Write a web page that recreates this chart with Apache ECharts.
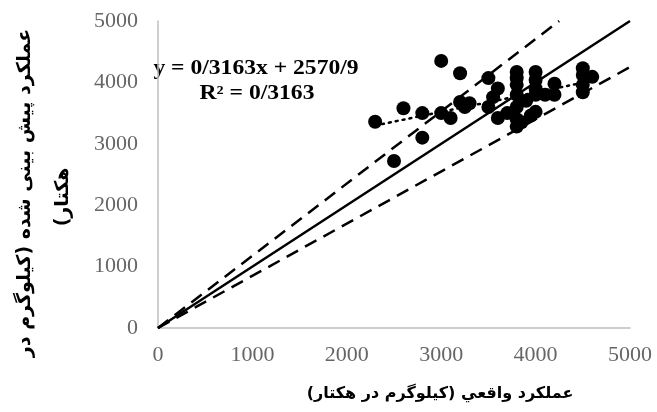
<!DOCTYPE html>
<html><head><meta charset="utf-8">
<script src="https://cdn.jsdelivr.net/npm/echarts@6/dist/echarts.min.js"></script>
<style>html,body{margin:0;padding:0;background:#fff}#c{width:657px;height:412px}</style>
</head><body><div id="c"></div>
<script>
// Observed (actual) yield vs predicted yield, kg/ha
const actualYield = [2300,2500,2600,2800,2800,3000,3000,3100,3200,3200,3300,3250,3500,3500,3600,3600,3550,3800,3800,3800,3800,3800,3800,3800,3850,3950,4000,4000,4000,4000,4000,4100,4200,4200,4500,4500,4500,4500,4600,3900,3700];
const predictedYield = [3360,2720,3580,3500,3100,4350,3500,3420,4150,3680,3660,3600,4070,3600,3900,3420,3760,4170,4070,3960,3800,3600,3400,3280,3350,3460,3520,4170,4040,3900,3800,3800,3800,3980,4230,4120,3960,3840,4090,3700,3500];
const oneToOneLine = [[0,0],[5000,5000]];
const upperLine = [[0,0],[4250,5000]];
const lowerLine = [[0,0],[5000,4250]];
const trendLine = [[2300,3298],[4600,4026]];
const equationText = 'y = 0/3163x + 2570/9';
const r2Text = 'R² = 0/3163';
const xTitle = 'عملکرد واقعي (کیلوگرم در هکتار)';
const yTitle1 = 'عملکرد پیش بینی شده (کیلوگرم در';
const yTitle2 = 'هکتار)';

const RLM = '\u200F';
const points = actualYield.map((x,i)=>[x, predictedYield[i]]);
const chart = echarts.init(document.getElementById('c'), null, {renderer:'canvas'});
const axisLabel = {color:'#666', fontFamily:'Liberation Serif', fontSize:22, formatter:v=>String(v)};
const lineBase = {type:'line', showSymbol:false, symbol:'none', silent:true, z:2};
chart.setOption({
  backgroundColor:'#fff',
  animation:false,
  grid:{left:158, right:27, top:21, bottom:84, containLabel:false},
  xAxis:{type:'value', min:0, max:5000, interval:1000,
    axisLine:{show:true, onZero:false, lineStyle:{color:'#bfbfbf', width:1.5}},
    axisTick:{show:false}, splitLine:{show:false},
    axisLabel:Object.assign({margin:16}, axisLabel)},
  yAxis:{type:'value', min:0, max:5000, interval:1000,
    axisLine:{show:true, onZero:false, lineStyle:{color:'#bfbfbf', width:1.5}},
    axisTick:{show:false}, splitLine:{show:false},
    axisLabel:Object.assign({margin:20}, axisLabel)},
  series:[
    Object.assign({}, lineBase, {data:oneToOneLine, lineStyle:{color:'#000', width:2.5}}),
    Object.assign({}, lineBase, {data:upperLine, lineStyle:{color:'#000', width:2.5, type:[13,8]}}),
    Object.assign({}, lineBase, {data:lowerLine, lineStyle:{color:'#000', width:2.5, type:[13,8]}}),
    Object.assign({}, lineBase, {data:trendLine, lineStyle:{color:'#000', width:2.5, type:[2,5], cap:'round'}}),
    {type:'scatter', data:points, symbol:'circle', symbolSize:14, itemStyle:{color:'#000', opacity:1}, z:3, silent:true}
  ],
  graphic:[
    {type:'text', x:256, y:69, scaleX:1.18, style:{text:equationText, font:'bold 20px "Liberation Serif"', fill:'#000', textAlign:'center', textVerticalAlign:'middle'}},
    {type:'text', x:257, y:94, scaleX:1.18, style:{text:r2Text, font:'bold 20px "Liberation Serif"', fill:'#000', textAlign:'center', textVerticalAlign:'middle'}},
    {type:'text', x:440, y:394, style:{text:RLM+xTitle+RLM, font:'bold 16px "DejaVu Sans"', fill:'#000', textAlign:'center', textVerticalAlign:'middle'}},
    {type:'text', x:25, y:193, rotation:Math.PI/2, style:{text:RLM+yTitle1+RLM, font:'bold 19px "DejaVu Sans"', fill:'#000', textAlign:'center', textVerticalAlign:'middle'}},
    {type:'text', x:63, y:197, rotation:Math.PI/2, style:{text:RLM+yTitle2+RLM, font:'bold 19px "DejaVu Sans"', fill:'#000', textAlign:'center', textVerticalAlign:'middle'}}
  ]
});
</script></body></html>
